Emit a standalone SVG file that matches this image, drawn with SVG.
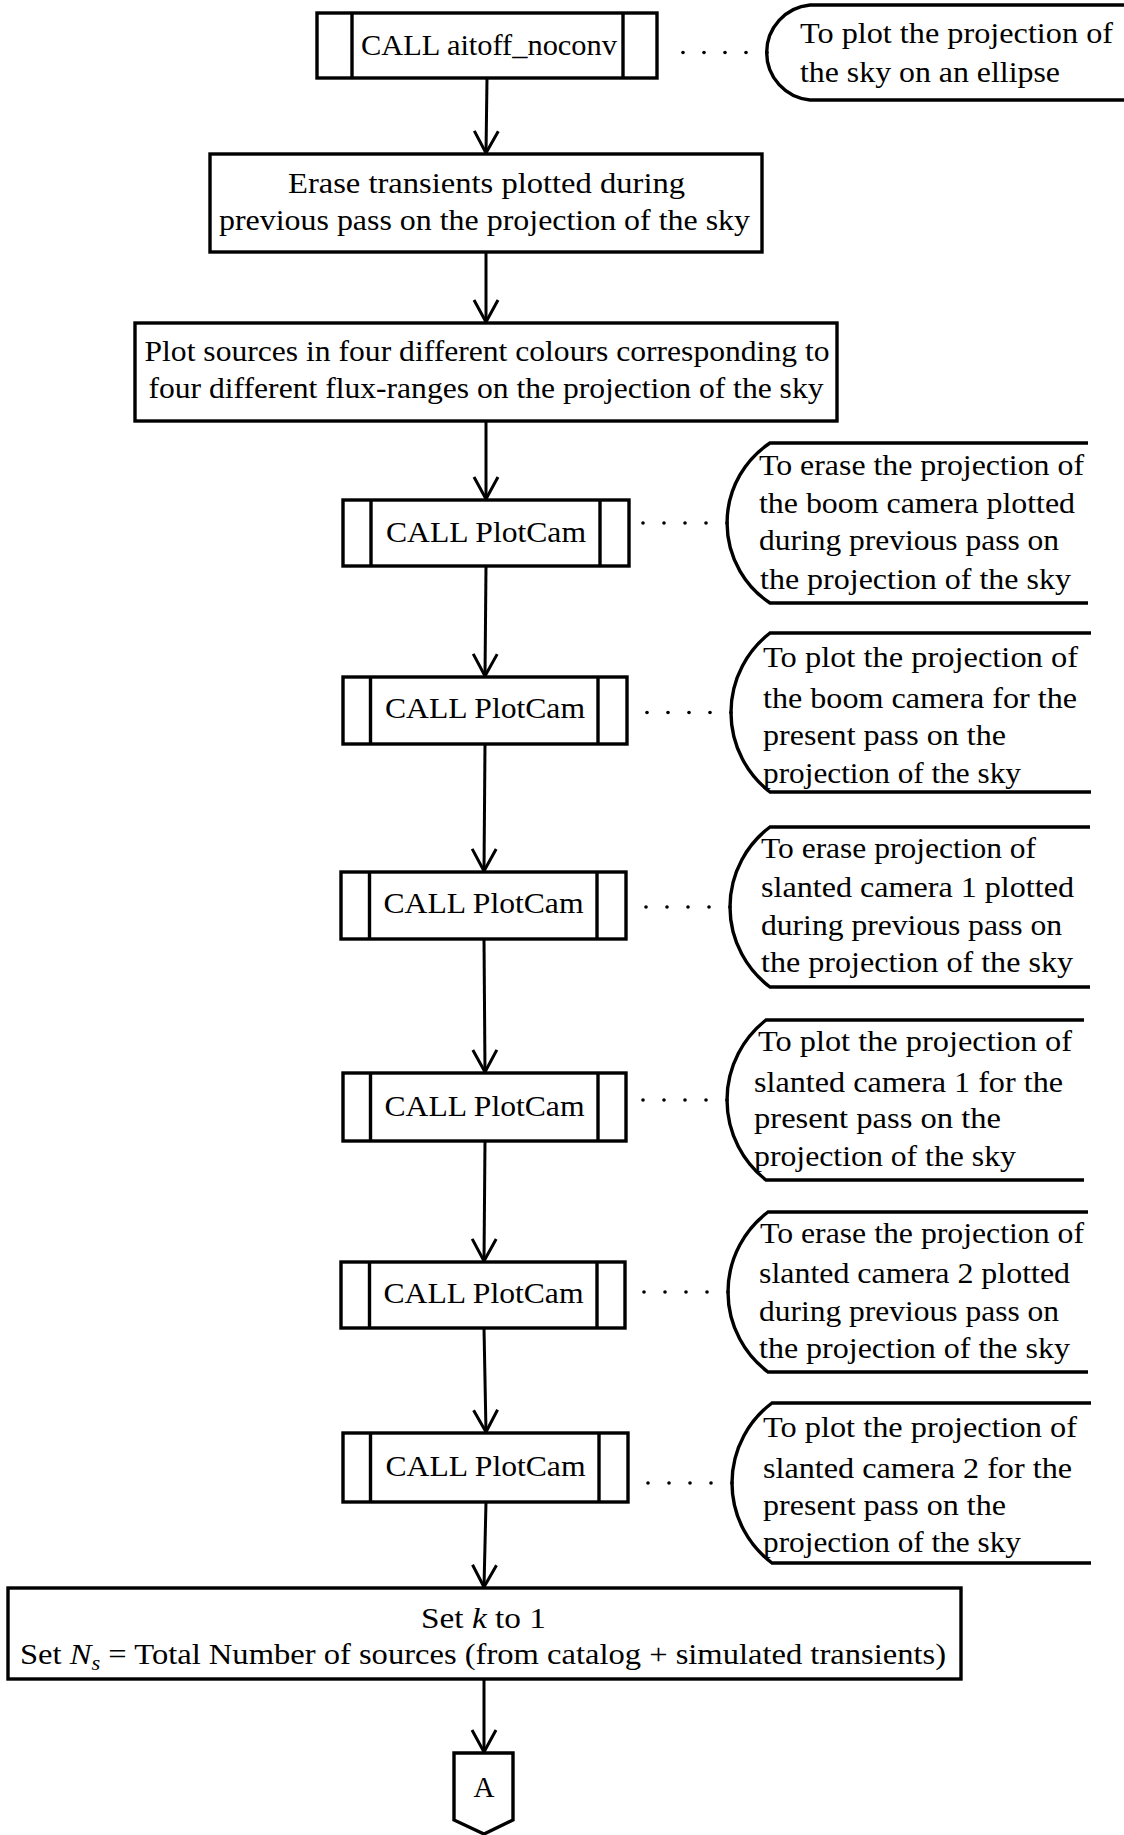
<svg xmlns="http://www.w3.org/2000/svg" width="1124" height="1835" viewBox="0 0 1124 1835">
  <style>
    .box { fill: #fff; stroke: #000; stroke-width: 3.4; }
    .bar { stroke: #000; stroke-width: 3.4; }
    .edge { fill: none; stroke: #000; stroke-width: 3; marker-end: url(#arrow); }
    .note { fill: none; stroke: #000; stroke-width: 3.4; }
    .dot { fill: #000; }
    text { font-family: "Liberation Serif", "Times New Roman", serif; font-size: 29px; fill: #000; }
    .c { text-anchor: middle; }
    .i { font-style: italic; }
  </style>
  <defs>
    <marker id="arrow" markerUnits="userSpaceOnUse" viewBox="-25 -15 30 30" markerWidth="30" markerHeight="30" refX="0" refY="0" orient="auto" overflow="visible">
      <path d="M-22,-12 L0,0 L-22,12" fill="none" stroke="#000" stroke-width="3" stroke-linejoin="round"/>
    </marker>
  </defs>
  <rect width="1124" height="1835" fill="#fff"/>

  <!-- connectors -->
  <g id="edges">
    <path class="edge" d="M487,78 L486,153"/>
    <path class="edge" d="M486,252 L486,322"/>
    <path class="edge" d="M486,421 L486,499"/>
    <path class="edge" d="M486,566 L485,676"/>
    <path class="edge" d="M485,744 L484,871"/>
    <path class="edge" d="M484,939 L485,1072"/>
    <path class="edge" d="M485,1141 L484,1261"/>
    <path class="edge" d="M484,1328 L486,1432"/>
    <path class="edge" d="M486,1502 L484,1587"/>
    <path class="edge" d="M484,1679 L484,1752"/>
  </g>

  <!-- dotted leaders to the comments -->
  <g id="leaders" class="dot">
    <circle cx="683" cy="52.5" r="1.8"/><circle cx="704" cy="52.5" r="1.8"/><circle cx="725" cy="52.5" r="1.8"/><circle cx="746" cy="52.5" r="1.8"/><circle cx="767" cy="52.5" r="1.8"/>
    <circle cx="643" cy="523" r="1.8"/><circle cx="664" cy="523" r="1.8"/><circle cx="685" cy="523" r="1.8"/><circle cx="706" cy="523" r="1.8"/><circle cx="727" cy="523" r="1.8"/>
    <circle cx="647" cy="712.5" r="1.8"/><circle cx="668" cy="712.5" r="1.8"/><circle cx="689" cy="712.5" r="1.8"/><circle cx="710" cy="712.5" r="1.8"/><circle cx="731" cy="712.5" r="1.8"/>
    <circle cx="646" cy="907" r="1.8"/><circle cx="667" cy="907" r="1.8"/><circle cx="688" cy="907" r="1.8"/><circle cx="709" cy="907" r="1.8"/><circle cx="730" cy="907" r="1.8"/>
    <circle cx="643" cy="1100" r="1.8"/><circle cx="664" cy="1100" r="1.8"/><circle cx="685" cy="1100" r="1.8"/><circle cx="706" cy="1100" r="1.8"/><circle cx="727" cy="1100" r="1.8"/>
    <circle cx="644" cy="1292" r="1.8"/><circle cx="665" cy="1292" r="1.8"/><circle cx="686" cy="1292" r="1.8"/><circle cx="707" cy="1292" r="1.8"/><circle cx="728" cy="1292" r="1.8"/>
    <circle cx="648" cy="1483" r="1.8"/><circle cx="669" cy="1483" r="1.8"/><circle cx="690" cy="1483" r="1.8"/><circle cx="711" cy="1483" r="1.8"/><circle cx="732" cy="1483" r="1.8"/>
  </g>

  <!-- process nodes -->
  <g id="call-aitoff">
    <rect class="box" x="317" y="13" width="340" height="65"/>
    <line class="bar" x1="352" y1="13" x2="352" y2="78"/>
    <line class="bar" x1="623" y1="13" x2="623" y2="78"/>
    <text class="c" x="489" y="55" textLength="256" lengthAdjust="spacingAndGlyphs">CALL aitoff_noconv</text>
  </g>

  <g id="erase-transients">
    <rect class="box" x="210" y="154" width="552" height="98"/>
    <text class="c" x="486.5" y="193" textLength="397" lengthAdjust="spacingAndGlyphs">Erase transients plotted during</text>
    <text class="c" x="484.5" y="230" textLength="531" lengthAdjust="spacingAndGlyphs">previous pass on the projection of the sky</text>
  </g>

  <g id="plot-sources">
    <rect class="box" x="135" y="323" width="702" height="98"/>
    <text class="c" x="487" y="361" textLength="685" lengthAdjust="spacingAndGlyphs">Plot sources in four different colours corresponding to</text>
    <text class="c" x="486" y="398" textLength="675" lengthAdjust="spacingAndGlyphs">four different flux-ranges on the projection of the sky</text>
  </g>

  <g id="plotcam-1">
    <rect class="box" x="343" y="500" width="286" height="66"/>
    <line class="bar" x1="371" y1="500" x2="371" y2="566"/>
    <line class="bar" x1="600" y1="500" x2="600" y2="566"/>
    <text class="c" x="486" y="542" textLength="200" lengthAdjust="spacingAndGlyphs">CALL PlotCam</text>
  </g>

  <g id="plotcam-2">
    <rect class="box" x="343" y="677" width="284" height="67"/>
    <line class="bar" x1="370.5" y1="677" x2="370.5" y2="744"/>
    <line class="bar" x1="598" y1="677" x2="598" y2="744"/>
    <text class="c" x="485" y="718" textLength="200" lengthAdjust="spacingAndGlyphs">CALL PlotCam</text>
  </g>

  <g id="plotcam-3">
    <rect class="box" x="341" y="872" width="285" height="67"/>
    <line class="bar" x1="369.5" y1="872" x2="369.5" y2="939"/>
    <line class="bar" x1="597" y1="872" x2="597" y2="939"/>
    <text class="c" x="483.5" y="913" textLength="200" lengthAdjust="spacingAndGlyphs">CALL PlotCam</text>
  </g>

  <g id="plotcam-4">
    <rect class="box" x="343" y="1073" width="283" height="68"/>
    <line class="bar" x1="370.5" y1="1073" x2="370.5" y2="1141"/>
    <line class="bar" x1="598" y1="1073" x2="598" y2="1141"/>
    <text class="c" x="484.5" y="1116" textLength="200" lengthAdjust="spacingAndGlyphs">CALL PlotCam</text>
  </g>

  <g id="plotcam-5">
    <rect class="box" x="341" y="1262" width="284" height="66"/>
    <line class="bar" x1="369.5" y1="1262" x2="369.5" y2="1328"/>
    <line class="bar" x1="597" y1="1262" x2="597" y2="1328"/>
    <text class="c" x="483.5" y="1303" textLength="200" lengthAdjust="spacingAndGlyphs">CALL PlotCam</text>
  </g>

  <g id="plotcam-6">
    <rect class="box" x="343" y="1433" width="285" height="69"/>
    <line class="bar" x1="370.5" y1="1433" x2="370.5" y2="1502"/>
    <line class="bar" x1="599" y1="1433" x2="599" y2="1502"/>
    <text class="c" x="485.5" y="1476" textLength="200" lengthAdjust="spacingAndGlyphs">CALL PlotCam</text>
  </g>

  <g id="set-k">
    <rect class="box" x="8" y="1588" width="953" height="91"/>
    <text class="c" x="483.5" y="1628" textLength="125" lengthAdjust="spacingAndGlyphs">Set <tspan class="i">k</tspan> to 1</text>
    <text class="c" x="483" y="1664" textLength="926" lengthAdjust="spacingAndGlyphs">Set <tspan class="i">N</tspan><tspan class="i" font-size="20" dy="6">s</tspan><tspan dy="-6"> = Total Number of sources (from catalog + simulated transients)</tspan></text>
  </g>

  <g id="connector-a">
    <path class="box" d="M454,1753 H513 V1820 L484,1834 L454,1820 Z"/>
    <text class="c" x="484" y="1797" font-size="27">A</text>
  </g>

  <!-- comment annotations -->
  <g id="note-aitoff">
    <path class="note" d="M1124,5 H810 A47.7,47.7 0 0 0 810,100 H1124"/>
    <text x="800" y="43" textLength="313" lengthAdjust="spacingAndGlyphs">To plot the projection of</text>
    <text x="800" y="82" textLength="260" lengthAdjust="spacingAndGlyphs">the sky on an ellipse</text>
  </g>

  <g id="note-plotcam-1">
    <path class="note" d="M1088,443 H770 A96,96 0 0 0 770,603 H1088"/>
    <text x="759" y="475" textLength="325" lengthAdjust="spacingAndGlyphs">To erase the projection of</text>
    <text x="759" y="513" textLength="316" lengthAdjust="spacingAndGlyphs">the boom camera plotted</text>
    <text x="759" y="550" textLength="300" lengthAdjust="spacingAndGlyphs">during previous pass on</text>
    <text x="760" y="589" textLength="311" lengthAdjust="spacingAndGlyphs">the projection of the sky</text>
  </g>

  <g id="note-plotcam-2">
    <path class="note" d="M1091,633 H770 A100.5,100.5 0 0 0 770,792 H1091"/>
    <text x="763" y="667" textLength="315" lengthAdjust="spacingAndGlyphs">To plot the projection of</text>
    <text x="763" y="708" textLength="314" lengthAdjust="spacingAndGlyphs">the boom camera for the</text>
    <text x="763" y="745" textLength="243" lengthAdjust="spacingAndGlyphs">present pass on the</text>
    <text x="763" y="783" textLength="258" lengthAdjust="spacingAndGlyphs">projection of the sky</text>
  </g>

  <g id="note-plotcam-3">
    <path class="note" d="M1090,827 H770 A100,100 0 0 0 770,987 H1090"/>
    <text x="761" y="858" textLength="275" lengthAdjust="spacingAndGlyphs">To erase projection of</text>
    <text x="761" y="897" textLength="313" lengthAdjust="spacingAndGlyphs">slanted camera 1 plotted</text>
    <text x="761" y="935" textLength="301" lengthAdjust="spacingAndGlyphs">during previous pass on</text>
    <text x="761" y="972" textLength="312" lengthAdjust="spacingAndGlyphs">the projection of the sky</text>
  </g>

  <g id="note-plotcam-4">
    <path class="note" d="M1084,1020 H766 A101.6,101.6 0 0 0 766,1180 H1084"/>
    <text x="758" y="1051" textLength="314" lengthAdjust="spacingAndGlyphs">To plot the projection of</text>
    <text x="754" y="1092" textLength="309" lengthAdjust="spacingAndGlyphs">slanted camera 1 for the</text>
    <text x="754" y="1128" textLength="247" lengthAdjust="spacingAndGlyphs">present pass on the</text>
    <text x="754" y="1166" textLength="262" lengthAdjust="spacingAndGlyphs">projection of the sky</text>
  </g>

  <g id="note-plotcam-5">
    <path class="note" d="M1088,1212 H768 A100,100 0 0 0 768,1372 H1088"/>
    <text x="760" y="1243" textLength="324" lengthAdjust="spacingAndGlyphs">To erase the projection of</text>
    <text x="759" y="1283" textLength="311" lengthAdjust="spacingAndGlyphs">slanted camera 2 plotted</text>
    <text x="759" y="1321" textLength="300" lengthAdjust="spacingAndGlyphs">during previous pass on</text>
    <text x="759" y="1358" textLength="311" lengthAdjust="spacingAndGlyphs">the projection of the sky</text>
  </g>

  <g id="note-plotcam-6">
    <path class="note" d="M1091,1403 H772 A100,100 0 0 0 772,1563 H1091"/>
    <text x="763" y="1437" textLength="314" lengthAdjust="spacingAndGlyphs">To plot the projection of</text>
    <text x="763" y="1478" textLength="309" lengthAdjust="spacingAndGlyphs">slanted camera 2 for the</text>
    <text x="763" y="1515" textLength="243" lengthAdjust="spacingAndGlyphs">present pass on the</text>
    <text x="763" y="1552" textLength="258" lengthAdjust="spacingAndGlyphs">projection of the sky</text>
  </g>
</svg>
